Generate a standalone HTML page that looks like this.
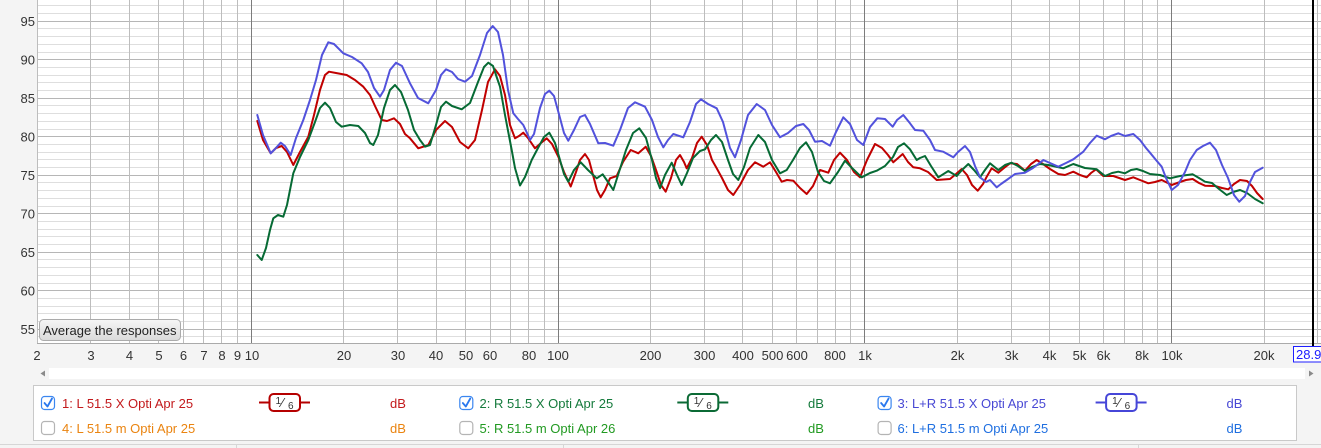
<!DOCTYPE html>
<html><head><meta charset="utf-8"><style>
html,body{margin:0;padding:0;background:#f4f4f4;}
svg{display:block;}
text{font-family:"Liberation Sans",Arial,sans-serif;}
</style></head><body>
<svg width="1321" height="448" viewBox="0 0 1321 448" xmlns="http://www.w3.org/2000/svg">
<defs>
<linearGradient id="btn" x1="0" y1="0" x2="0" y2="1"><stop offset="0" stop-color="#f6f6f6"/><stop offset="1" stop-color="#dadada"/></linearGradient>
</defs>
<rect x="0" y="0" width="1321" height="448" fill="#f4f4f4"/>
<rect x="37.5" y="0" width="1284" height="343" fill="#ffffff"/>
<!-- minor horizontal -->
<g stroke="#dedede" stroke-width="1">
<line x1="38" x2="1321" y1="5.5" y2="5.5"/><line x1="38" x2="1321" y1="13.5" y2="13.5"/>
<line x1="38" x2="1321" y1="28.5" y2="28.5"/><line x1="38" x2="1321" y1="36.5" y2="36.5"/><line x1="38" x2="1321" y1="44.5" y2="44.5"/><line x1="38" x2="1321" y1="52.5" y2="52.5"/>
<line x1="38" x2="1321" y1="67.5" y2="67.5"/><line x1="38" x2="1321" y1="75.5" y2="75.5"/><line x1="38" x2="1321" y1="82.5" y2="82.5"/><line x1="38" x2="1321" y1="90.5" y2="90.5"/>
<line x1="38" x2="1321" y1="105.5" y2="105.5"/><line x1="38" x2="1321" y1="113.5" y2="113.5"/><line x1="38" x2="1321" y1="121.5" y2="121.5"/><line x1="38" x2="1321" y1="129.5" y2="129.5"/>
<line x1="38" x2="1321" y1="144.5" y2="144.5"/><line x1="38" x2="1321" y1="152.5" y2="152.5"/><line x1="38" x2="1321" y1="159.5" y2="159.5"/><line x1="38" x2="1321" y1="167.5" y2="167.5"/>
<line x1="38" x2="1321" y1="182.5" y2="182.5"/><line x1="38" x2="1321" y1="190.5" y2="190.5"/><line x1="38" x2="1321" y1="198.5" y2="198.5"/><line x1="38" x2="1321" y1="206.5" y2="206.5"/>
<line x1="38" x2="1321" y1="221.5" y2="221.5"/><line x1="38" x2="1321" y1="229.5" y2="229.5"/><line x1="38" x2="1321" y1="236.5" y2="236.5"/><line x1="38" x2="1321" y1="244.5" y2="244.5"/>
<line x1="38" x2="1321" y1="259.5" y2="259.5"/><line x1="38" x2="1321" y1="267.5" y2="267.5"/><line x1="38" x2="1321" y1="275.5" y2="275.5"/><line x1="38" x2="1321" y1="283.5" y2="283.5"/>
<line x1="38" x2="1321" y1="298.5" y2="298.5"/><line x1="38" x2="1321" y1="306.5" y2="306.5"/><line x1="38" x2="1321" y1="313.5" y2="313.5"/><line x1="38" x2="1321" y1="321.5" y2="321.5"/>
<line x1="38" x2="1321" y1="336.5" y2="336.5"/>
</g>
<!-- major horizontal -->
<g stroke="#b6b6b6" stroke-width="1">
<line x1="38" x2="1321" y1="21.5" y2="21.5"/><line x1="38" x2="1321" y1="59.5" y2="59.5"/><line x1="38" x2="1321" y1="98.5" y2="98.5"/><line x1="38" x2="1321" y1="136.5" y2="136.5"/><line x1="38" x2="1321" y1="175.5" y2="175.5"/><line x1="38" x2="1321" y1="213.5" y2="213.5"/><line x1="38" x2="1321" y1="252.5" y2="252.5"/><line x1="38" x2="1321" y1="290.5" y2="290.5"/><line x1="38" x2="1321" y1="329.5" y2="329.5"/>
</g>
<!-- vertical grid -->
<g stroke="#bdbdbd" stroke-width="1">
<line y1="0" y2="343" x1="37.5" x2="37.5"/><line y1="0" y2="343" x1="90.5" x2="90.5"/><line y1="0" y2="343" x1="129.5" x2="129.5"/><line y1="0" y2="343" x1="158.5" x2="158.5"/><line y1="0" y2="343" x1="183.5" x2="183.5"/><line y1="0" y2="343" x1="203.5" x2="203.5"/><line y1="0" y2="343" x1="221.5" x2="221.5"/><line y1="0" y2="343" x1="237.5" x2="237.5"/>
<line y1="0" y2="343" x1="343.5" x2="343.5"/><line y1="0" y2="343" x1="397.5" x2="397.5"/><line y1="0" y2="343" x1="436.5" x2="436.5"/><line y1="0" y2="343" x1="465.5" x2="465.5"/><line y1="0" y2="343" x1="490.5" x2="490.5"/><line y1="0" y2="343" x1="510.5" x2="510.5"/><line y1="0" y2="343" x1="528.5" x2="528.5"/><line y1="0" y2="343" x1="544.5" x2="544.5"/>
<line y1="0" y2="343" x1="650.5" x2="650.5"/><line y1="0" y2="343" x1="704.5" x2="704.5"/><line y1="0" y2="343" x1="742.5" x2="742.5"/><line y1="0" y2="343" x1="772.5" x2="772.5"/><line y1="0" y2="343" x1="796.5" x2="796.5"/><line y1="0" y2="343" x1="817.5" x2="817.5"/><line y1="0" y2="343" x1="835.5" x2="835.5"/><line y1="0" y2="343" x1="850.5" x2="850.5"/>
<line y1="0" y2="343" x1="957.5" x2="957.5"/><line y1="0" y2="343" x1="1011.5" x2="1011.5"/><line y1="0" y2="343" x1="1049.5" x2="1049.5"/><line y1="0" y2="343" x1="1079.5" x2="1079.5"/><line y1="0" y2="343" x1="1103.5" x2="1103.5"/><line y1="0" y2="343" x1="1124.5" x2="1124.5"/><line y1="0" y2="343" x1="1142.5" x2="1142.5"/><line y1="0" y2="343" x1="1157.5" x2="1157.5"/>
<line y1="0" y2="343" x1="1264.5" x2="1264.5"/><line y1="0" y2="343" x1="1317.5" x2="1317.5"/>
</g>
<g stroke="#7c7c7c" stroke-width="1">
<line y1="0" y2="343" x1="251.5" x2="251.5"/><line y1="0" y2="343" x1="558.5" x2="558.5"/><line y1="0" y2="343" x1="864.5" x2="864.5"/><line y1="0" y2="343" x1="1171.5" x2="1171.5"/>
</g>
<line x1="37" x2="1321" y1="343.5" y2="343.5" stroke="#aaaaaa" stroke-width="1"/>

<!-- curves -->
<g fill="none" stroke-width="2" stroke-linejoin="round" stroke-linecap="round">
<polyline stroke="#c00000" points="257.3,121 263,140 270.7,153.3 276,148 281.7,146 287,152 293.3,165 300,152 308.3,136.7 314,115 320,90 325,75 329,71.7 336,73 346.7,75 355,80 363.3,86.7 370,95 375,106 381.7,120 387,121 394,118.3 400,124 405,134 410,138.3 418.3,148.3 428.3,145 436,130 445,121 452,127 460,142 468.3,148.3 475,140 482,110 488,82 495,69.3 500,76 505,95 510,125 515,138.3 519,136 523.3,132.7 528,138 535,148.3 541,143 546.7,138.3 552,144 558.3,156.7 564,172 570.7,186.5 576,172 580,160 585,154 589,160 593,175 597,190 600.7,197.3 605,190 610,178.3 616.7,176 623,162 630.7,150 638.3,153.3 645.7,146.7 651,156 656,170 661,185 665.7,191.7 671,178 676,160 680,155 684,162 686.7,168.3 692,158 697,143 701.7,136.7 707,145 712,160 716.7,168.3 722,178 728,190 733.3,195 740,185 748,170 755,162.3 763.3,166.7 770,162.3 776,172 781.7,181.7 787,180 793.3,180.7 800,188 806.7,194 813,186 820,170 828.3,172.7 834,160 840,152.7 847,160 854,172 860,177.3 867,160 875,144 882,148 888,155 893.3,162.3 902.7,154 908,162 913.3,167.3 920,168.3 928,172 936.7,180 950,179 956,174 961.7,169 967,175 972,185 977.7,190.7 983,184 986.7,176.7 991.7,168.3 998.3,172.7 1004,168 1010,163.3 1017,164 1025,170.7 1031,164 1036.7,160 1043,164 1050,169 1058.3,174 1065,175 1073.3,171.7 1080,175 1086.7,177.3 1091,173 1096,169.3 1103.3,176 1113.3,176 1125,180 1133.3,177.3 1140,180 1148.3,183.3 1155,182 1161.7,180 1171.7,185 1180,182 1186,180 1192.7,179 1199,183 1205,185.7 1215,186 1222,188 1228.3,189.3 1234,184 1240,180 1247,181 1252,186 1257,193 1262.7,199"/>
<polyline stroke="#066a34" points="257.3,255 261.7,260 266,248 270,230 273.3,218.3 278,215 283.3,216.7 287,205 293.3,173.3 300,157 308.3,140 315,122 320,108 325,102.7 330,108 336,122 341.7,126.7 350,125 358.3,126 365,133 370,143 373.3,145 378,135 384,108 390,90 395,85 401,92 408,110 414,130 420,140 425,146.7 430,145 436,125 441,107 446,101.7 452,106 461.7,109.3 470,103 478,82 484,67 488.3,62.7 493,66 497,78 500,86.7 505,115 511.7,150 515,168 520,185.5 525,177 531.7,160 538,148 544,137 549.3,132.7 555,143 560,160 564,174 568.3,181.7 574,170 580.7,162.3 588,170 596.7,178.3 602.7,174.3 608,182 613.3,190 619,172 626,150 633,133 639.3,128.3 646,138 652,160 656,178 660,188.3 665,175 671.7,162.7 677,175 681.7,185 687,173 693,158 700,151 705,149.3 711,140 716,135 722,142 728,160 733,174 738.3,180 744,167 750,148 758.3,135 765,142 772,160 780,173.3 786.7,170 793,160 800,148 806,142.3 812,152 818,172 824,181 830,183.3 838,172 845,160.7 852,168 861.7,177.3 870,173 876.7,170.7 885,166 893,157 898,147 904,143.3 910,149.3 916.7,160 920,158 925,156 931,166 938.3,177.3 948.3,171 956.7,176 962,170 968.3,164 974,170 980,177.3 985,170 990,163.3 998.3,170 1005,165 1011.7,162.7 1018,166 1025,171 1032,167 1040,164 1048.3,165 1063.3,168.3 1073.3,164 1085,168 1096.7,169.3 1105,176 1112,173 1118.3,171.7 1125,173.3 1131,170 1136.7,169 1143,171 1150,174 1160,175 1170,178.3 1180,176 1192.7,174.3 1199,178 1205,181.7 1212,183 1219,189 1226.7,195 1233,192 1240,190 1247,193 1255,199 1262.7,203.3"/>
<polyline stroke="#5252dc" points="257.3,115 263,135 270.7,153.3 275,149 280.7,142.7 285,146 290.7,155 296,138 303.3,120 310,100 316,80 322,55 328.3,42.3 334,44 343.3,53.3 352,57 361.7,63.3 368,72 374,88 380,96.7 384,90 390,70 396,62.7 402,66 410,83.3 418,98 428.3,103.3 436,90 441,75 446,69.3 452,72 458,79 465,81.7 472,76 480,55 487,33 492.7,26 498,32 503,55 508,90 513.3,113.3 518,119 523.3,125 527,133 530,140 534,134 540,108 545,94 549.3,90.7 554,96 560,118 564,133 568.3,140.7 574,130 580,117 585,115 590,124 598.3,143.3 605,143 613.3,145.7 620,130 628,108 635,102.3 645,106.7 652,120 658,137 663.3,147.3 668,140 673.3,134 683.3,137.3 690,122 696,104 701,99.3 708,104 716.7,108.3 723,122 730,148 735,157.3 741,140 748,115 756.7,104 765,110 772,125 780,137.3 788,133 796,126 803.3,124 809,130 815,141.7 822,141 830,145.7 836,132 843.3,117.3 850,124 857,140 863.3,145 870,127 877.3,118.3 885,119 892.7,126.7 897,120 903.3,115 910,123.3 915,130 923.3,130.7 930,140 935,150 943.3,151.7 953.3,157.3 958,152 965,146 970,152 975,166 980,177.3 986,182 990,180 996.7,187.3 1001,184 1006.7,180 1015,174 1025,172.7 1033,168 1040,162.7 1043.3,160 1050,163 1058.3,166.7 1066,163 1073.3,159.3 1083.3,151.7 1090,143 1096.7,135.7 1105,139.3 1111,136 1118.3,133.3 1125,136 1133.3,134 1140,140 1146,148 1150,152.7 1156,160 1161.7,166.7 1166,178 1171.7,190 1178,185 1185,172 1190,160 1196.7,150 1203,146 1210,142.7 1216,150 1222,165 1228,178 1234,195 1239.3,201.7 1245,196 1250,182 1255,172 1262.7,167.7"/>
</g>

<!-- cursor line -->
<rect x="1312" y="0" width="2" height="347" fill="#000"/>

<!-- y labels -->
<g font-size="13" fill="#333" text-anchor="end">
<text x="35" y="26">95</text><text x="35" y="64.5">90</text><text x="35" y="103">85</text><text x="35" y="141.5">80</text><text x="35" y="180">75</text><text x="35" y="218.5">70</text><text x="35" y="257">65</text><text x="35" y="295.5">60</text><text x="35" y="334">55</text>
</g>

<!-- button -->
<rect x="39.5" y="319.5" width="141" height="21" rx="4" fill="url(#btn)" stroke="#ababab"/>
<text x="43" y="335" font-size="13" fill="#222">Average the responses</text>

<!-- x labels -->
<g font-size="13" fill="#333" text-anchor="middle">
<text x="37" y="360">2</text><text x="91" y="360">3</text><text x="129.5" y="360">4</text><text x="159" y="360">5</text><text x="183.5" y="360">6</text><text x="204" y="360">7</text><text x="222" y="360">8</text><text x="237.5" y="360">9</text><text x="252" y="360">10</text>
<text x="344" y="360">20</text><text x="398" y="360">30</text><text x="436" y="360">40</text><text x="466" y="360">50</text><text x="490" y="360">60</text><text x="529" y="360">80</text><text x="558" y="360">100</text>
<text x="650.5" y="360">200</text><text x="704.5" y="360">300</text><text x="743" y="360">400</text><text x="772.5" y="360">500</text><text x="797" y="360">600</text><text x="835" y="360">800</text><text x="865" y="360">1k</text>
<text x="957.5" y="360">2k</text><text x="1011.5" y="360">3k</text><text x="1049.5" y="360">4k</text><text x="1079.5" y="360">5k</text><text x="1103.5" y="360">6k</text><text x="1142" y="360">8k</text><text x="1172" y="360">10k</text><text x="1264" y="360">20k</text>
</g>
<rect x="1293.5" y="346.5" width="30" height="15.5" fill="#fff" stroke="#1f1fff"/>
<text x="1296" y="359" font-size="13" fill="#1a1aff">28.9</text>

<!-- scroll strip -->
<rect x="49" y="368" width="1256" height="11" fill="#fff"/>
<polygon points="45,370.5 45,376.5 40.5,373.5" fill="#8a8a8a"/>
<polygon points="1309,370.5 1309,376.5 1313.5,373.5" fill="#8a8a8a"/>

<!-- legend -->
<rect x="33.5" y="385.5" width="1263" height="55" fill="#fff" stroke="#c9c9c9"/>
<line x1="0" x2="1321" y1="444.5" y2="444.5" stroke="#d6d6d6"/>
<line x1="236.5" x2="236.5" y1="444" y2="448" stroke="#d6d6d6"/>
<line x1="563.5" x2="563.5" y1="444" y2="448" stroke="#d6d6d6"/>
<line x1="1138.5" x2="1138.5" y1="444" y2="448" stroke="#d6d6d6"/>

<!-- checkboxes -->
<g stroke-width="1.2">
<rect x="41.5" y="396.5" width="13" height="13" rx="3" fill="#fff" stroke="#3a86f0"/>
<rect x="459.8" y="396.5" width="13" height="13" rx="3" fill="#fff" stroke="#3a86f0"/>
<rect x="878.1" y="396.5" width="13" height="13" rx="3" fill="#fff" stroke="#3a86f0"/>
<rect x="41.5" y="421.5" width="13" height="13" rx="3" fill="#fff" stroke="#b4b4b4"/>
<rect x="459.8" y="421.5" width="13" height="13" rx="3" fill="#fff" stroke="#b4b4b4"/>
<rect x="878.1" y="421.5" width="13" height="13" rx="3" fill="#fff" stroke="#b4b4b4"/>
</g>
<g fill="none" stroke="#2a78ee" stroke-width="1.8" stroke-linecap="round" stroke-linejoin="round">
<polyline points="44.5,403 47.5,406.5 52,398.5"/>
<polyline points="462.8,403 465.8,406.5 470.3,398.5"/>
<polyline points="881.1,403 884.1,406.5 888.6,398.5"/>
</g>

<g font-size="13">
<text x="62" y="408" fill="#c31a1d">1: L 51.5 X Opti Apr 25</text>
<text x="62" y="433" fill="#ea8410">4: L 51.5 m Opti Apr 25</text>
<text x="390" y="408" fill="#c31a1d">dB</text>
<text x="390" y="433" fill="#ea8410">dB</text>
<text x="479.5" y="408" fill="#157a3c">2: R 51.5 X Opti Apr 25</text>
<text x="479.5" y="433" fill="#229a22">5: R 51.5 m Opti Apr 26</text>
<text x="808" y="408" fill="#157a3c">dB</text>
<text x="808" y="433" fill="#229a22">dB</text>
<text x="897.5" y="408" fill="#4848d4">3: L+R 51.5 X Opti Apr 25</text>
<text x="897.5" y="433" fill="#1f6fe0">6: L+R 51.5 m Opti Apr 25</text>
<text x="1226.5" y="408" fill="#4848d4">dB</text>
<text x="1226.5" y="433" fill="#1f6fe0">dB</text>
</g>

<!-- filter icons -->
<g fill="#fff" stroke-width="2">
<line x1="259" x2="269" y1="402.5" y2="402.5" stroke="#b50000"/><line x1="300" x2="310" y1="402.5" y2="402.5" stroke="#b50000"/>
<rect x="269.5" y="394" width="30.5" height="17" rx="4" stroke="#b50000"/>
<line x1="677.3" x2="687.3" y1="402.5" y2="402.5" stroke="#0b6a35"/><line x1="718.3" x2="728.3" y1="402.5" y2="402.5" stroke="#0b6a35"/>
<rect x="687.8" y="394" width="30.5" height="17" rx="4" stroke="#0b6a35"/>
<line x1="1095.6" x2="1105.6" y1="402.5" y2="402.5" stroke="#4646d8"/><line x1="1136.6" x2="1146.6" y1="402.5" y2="402.5" stroke="#4646d8"/>
<rect x="1106.1" y="394" width="30.5" height="17" rx="4" stroke="#4646d8"/>
</g>
<g fill="#333">
<text x="275.5" y="404" font-size="10">1</text><text x="281.5" y="407" font-size="13">⁄</text><text x="288" y="409" font-size="10">6</text>
<text x="693.8" y="404" font-size="10">1</text><text x="699.8" y="407" font-size="13">⁄</text><text x="706.3" y="409" font-size="10">6</text>
<text x="1112.1" y="404" font-size="10">1</text><text x="1118.1" y="407" font-size="13">⁄</text><text x="1124.6" y="409" font-size="10">6</text>
</g>
</svg>
</body></html>
